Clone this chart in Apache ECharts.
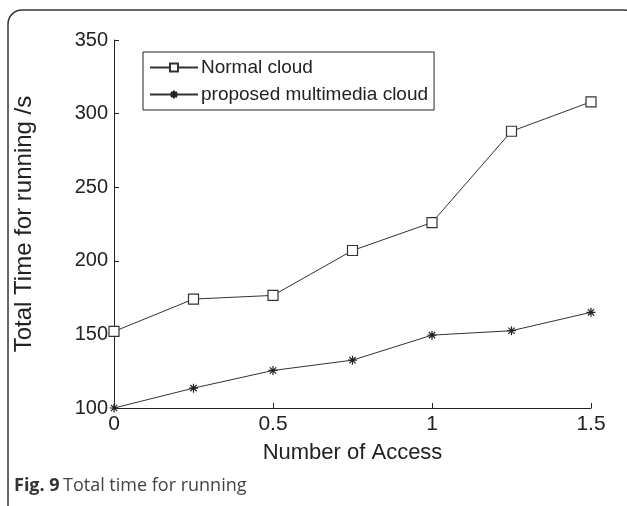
<!DOCTYPE html>
<html>
<head>
<meta charset="utf-8">
<script src="https://cdn.jsdelivr.net/npm/echarts@6/dist/echarts.min.js"></script>
<style>
  html, body { margin: 0; padding: 0; background: #fff; }
  #chart { width: 627px; height: 506px; }
</style>
</head>
<body>
<div id="chart"></div>
<script>
// Number of access (x) and total running time in seconds (y)
const accessCounts = [0, 0.25, 0.5, 0.75, 1, 1.25, 1.5];
const normalCloud = [152, 174, 176.5, 207, 226, 288, 308];
const multimediaCloud = [100, 113.5, 125.5, 132.5, 149.5, 152.5, 165];
const yTicks = [100, 150, 200, 250, 300, 350];
const xTicks = [0, 0.5, 1, 1.5];

const seriesNames = ['Normal cloud', 'proposed multimedia cloud'];

const pairs = (vals) => accessCounts.map((x, i) => [x, vals[i]]);

// Asterisk marker drawn as stroked strokes
const asterisk = 'path://M5 0L5 10M0 5L10 5M1.5 1.5L8.5 8.5M1.5 8.5L8.5 1.5';

const FONT = '"Liberation Sans", Arial, Helvetica, sans-serif';
const INK = '#222';

const chart = echarts.init(document.getElementById('chart'), null, { renderer: 'canvas' });

chart.setOption({
  animation: false,
  backgroundColor: '#fff',
  grid: { left: 114, right: 36, top: 40, bottom: 98, containLabel: false },
  xAxis: {
    type: 'value',
    min: xTicks[0],
    max: xTicks[xTicks.length - 1],
    interval: 0.5,
    name: 'Number of Access',
    nameLocation: 'middle',
    nameGap: 34,
    nameTextStyle: { fontFamily: FONT, fontSize: 22, color: INK },
    axisLine: { show: true, lineStyle: { color: INK, width: 1 } },
    axisTick: { show: true, inside: true, length: 5, lineStyle: { color: INK } },
    axisLabel: { fontFamily: FONT, fontSize: 21, color: INK, margin: 6 },
    splitLine: { show: false }
  },
  yAxis: {
    type: 'value',
    min: yTicks[0],
    max: yTicks[yTicks.length - 1],
    interval: 50,
    name: 'Total Time for running /s',
    nameLocation: 'middle',
    nameGap: 78,
    nameTextStyle: { fontFamily: FONT, fontSize: 24, color: INK },
    axisLine: { show: true, lineStyle: { color: INK, width: 1 } },
    axisTick: { show: true, inside: true, length: 5, lineStyle: { color: INK } },
    axisLabel: { fontFamily: FONT, fontSize: 20, color: INK, margin: 6 },
    splitLine: { show: false }
  },
  legend: {
    orient: 'vertical',
    left: 143,
    top: 52,
    padding: [6, 6, 6, 6],
    itemGap: 8,
    itemWidth: 48,
    itemHeight: 10,
    borderColor: INK,
    borderWidth: 1,
    backgroundColor: '#fff',
    textStyle: { fontFamily: FONT, fontSize: 19, color: INK, padding: [0, 0, 0, -2] },
    data: seriesNames
  },
  series: [
    {
      name: seriesNames[0],
      type: 'line',
      data: pairs(normalCloud),
      symbol: 'rect',
      symbolSize: 10,
      lineStyle: { color: '#333', width: 1 },
      itemStyle: { color: '#fff', borderColor: '#333', borderWidth: 1.2 },
      z: 3
    },
    {
      name: seriesNames[1],
      type: 'line',
      data: pairs(multimediaCloud),
      symbol: asterisk,
      symbolSize: 9,
      lineStyle: { color: '#333', width: 1 },
      itemStyle: { color: 'none', borderColor: '#222', borderWidth: 1.2 },
      z: 3
    }
  ],
  graphic: [
    {
      type: 'rect',
      shape: { x: 8, y: 10, width: 630, height: 540, r: 14 },
      style: { fill: 'none', stroke: '#333', lineWidth: 1.5 },
      silent: true,
      z: 0
    },
    {
      type: 'text',
      left: 14,
      top: 477,
      style: {
        rich: {
          b: { fontFamily: '"Open Sans", sans-serif', fontWeight: 'bold', fontSize: 18, fill: '#333' },
          n: { fontFamily: '"Open Sans", sans-serif', fontSize: 18, fill: '#444' }
        },
        text: '{b|Fig. 9} {n|Total time for running}'
      },
      silent: true
    }
  ]
});
</script>
</body>
</html>
